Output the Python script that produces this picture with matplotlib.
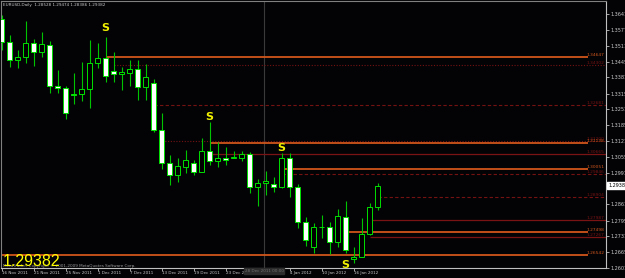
import matplotlib
matplotlib.use("Agg")
import matplotlib.pyplot as plt
import matplotlib.transforms as mtransforms
import numpy as np

# --- Data (EURUSD daily) ---
opens = [1.3621, 1.3526, 1.3453, 1.3465, 1.3522, 1.3485, 1.3514, 1.3346, 1.3338, 1.3312,
         1.3312, 1.3334, 1.3440, 1.3461, 1.3408, 1.3395, 1.3399, 1.3416, 1.3342, 1.3358,
         1.3166, 1.3032, 1.2981, 1.3016, 1.3032, 1.2995, 1.3080, 1.3040, 1.3050, 1.3053,
         1.3053, 1.3067, 1.2934, 1.2948, 1.2945, 1.2931, 1.3050, 1.2934, 1.2791, 1.2688,
         1.2767, 1.2768, 1.2706, 1.2811, 1.2639, 1.2647, 1.2739, 1.28528]
highs = [1.3637, 1.3555, 1.3494, 1.3612, 1.3539, 1.3567, 1.3530, 1.3412, 1.3346, 1.3399,
         1.3444, 1.3535, 1.3522, 1.3547, 1.3485, 1.3424, 1.3453, 1.3453, 1.3436, 1.3375,
         1.3237, 1.3064, 1.3051, 1.3084, 1.3043, 1.3133, 1.3198, 1.3118, 1.3095, 1.3081,
         1.3081, 1.3077, 1.2964, 1.2998, 1.2972, 1.3071, 1.3073, 1.2944, 1.2809, 1.2784,
         1.2818, 1.2788, 1.2843, 1.2877, 1.2686, 1.2807, 1.2866, 1.29474]
lows = [1.3494, 1.3424, 1.3420, 1.3440, 1.3428, 1.3465, 1.3318, 1.3318, 1.3211, 1.3272,
        1.3285, 1.3257, 1.3420, 1.3363, 1.3363, 1.3330, 1.3346, 1.3289, 1.3289, 1.3158,
        1.3008, 1.2941, 1.2954, 1.2991, 1.2981, 1.2995, 1.3023, 1.3016, 1.3023, 1.3050,
        1.3040, 1.2909, 1.2855, 1.2900, 1.2913, 1.2930, 1.2893, 1.2766, 1.2692, 1.2664,
        1.2723, 1.2658, 1.2688, 1.2661, 1.2623, 1.2647, 1.2735, 1.28386]
closes = [1.3526, 1.3453, 1.3465, 1.3522, 1.3485, 1.3518, 1.3346, 1.3338, 1.3237, 1.3311,
          1.3334, 1.3440, 1.3461, 1.3387, 1.3395, 1.3404, 1.3416, 1.3342, 1.3383, 1.3166,
          1.3032, 1.2981, 1.3020, 1.3043, 1.2995, 1.3081, 1.3040, 1.3050, 1.3043, 1.3054,
          1.3067, 1.2934, 1.2948, 1.2957, 1.2931, 1.3050, 1.2934, 1.2791, 1.2716, 1.2768,
          1.2768, 1.2706, 1.2814, 1.2675, 1.2647, 1.2739, 1.2850, 1.29382]

date_bars = [0, 4, 8, 12, 16, 20, 24, 28, 36, 40, 44]
date_labels = ["16 Nov 2011", "21 Nov 2011", "25 Nov 2011", "1 Dec 2011", "7 Dec 2011",
               "13 Dec 2011", "19 Dec 2011", "23 Dec 2011", "4 Jan 2012", "10 Jan 2012",
               "16 Jan 2012"]

price_ticks = [1.36410, 1.35770, 1.35110, 1.34450, 1.33810, 1.33150, 1.32510, 1.31850,
               1.31210, 1.30550, 1.29910, 1.28610, 1.27950, 1.27310, 1.26650, 1.26010]

# horizontal level objects: price, bar where it starts, kind
level_prices = [1.34647, 1.34302, 1.32681, 1.31200, 1.31138, 1.30665, 1.30051, 1.29846,
                1.28904, 1.27987, 1.27498, 1.27267, 1.26542]
level_start = [13, 14, 19, 20, 26, 26, 35, 35, 47, 46, 43, 46, -1]
level_kind = ["orange", "dotted", "dashed", "dotted", "orange", "solid", "orange", "dashed",
              "dashed", "solid", "orange", "solid", "orange"]

# "S" signal marks
signal_bars = [13, 26, 35, 43]
signal_prices = [1.3584, 1.3220, 1.3091, 1.2613]

header = "EURUSD,Daily  1.28528 1.29474 1.28386 1.29382"
last_price = 1.29382

# --- Styles ---
GREEN = "#00E000"
WICK = "#00C400"
BG = "#030306"
LEVEL_STYLE = {
    "orange": dict(color="#D0561C", lw=1.3, ls="-"),
    "solid": dict(color="#7A1414", lw=0.9, ls="-"),
    "dashed": dict(color="#741212", lw=0.8, ls=(0, (3, 2))),
    "dotted": dict(color="#741212", lw=0.8, ls=(0, (1, 1.5))),
}

fig = plt.figure(figsize=(6.25, 2.78), dpi=100, facecolor=BG)
ax = fig.add_axes([1 / 625, 10 / 278, 605 / 625, 267 / 278], facecolor=BG)

xmin = -0.7 / 8
xmax = xmin + 605 / 8
ax.set_xlim(xmin, xmax)
ax.set_ylim(1.260099, 1.369423)

# period separator
ax.axvline(32.8, color="#3A3A3A", lw=0.8, zorder=1)

# --- Levels ---
yblend = mtransforms.blended_transform_factory(ax.transAxes, ax.transData)
for p, start, kind in zip(level_prices, level_start, level_kind):
    st = LEVEL_STYLE[kind]
    end = xmin + 587 / 8 if kind == "orange" else xmax
    ax.hlines(p, max(start, xmin), end, colors=st["color"], lw=st["lw"],
              linestyles=st["ls"], zorder=1)
    ax.text(0.998, p, "%.5f" % p, transform=yblend,
            ha="right", va="bottom", fontsize=3.2, color=st["color"], zorder=4)

# --- Candles ---
o = np.array(opens)
c = np.array(closes)
x = np.arange(len(o))
bull = c >= o  # MT4 default: bull candle black, bear candle white
ax.vlines(x, lows, highs, color=WICK, lw=0.8, zorder=2)
ax.bar(x, np.maximum(np.abs(c - o), 0.00002), bottom=np.minimum(o, c), width=0.62,
       color=np.where(bull, "black", "white"), edgecolor=GREEN, linewidth=0.7, zorder=3)

for b, p in zip(signal_bars, signal_prices):
    ax.text(b, p, "S", ha="center", va="center", fontsize=8, fontweight="bold",
            color="#F0F000", zorder=5)

# --- Axes / frame ---
for side in ["left", "top"]:
    ax.spines[side].set_color("#808080")
for side in ["right", "bottom"]:
    ax.spines[side].set_color("#C0C0C0")
for s in ax.spines.values():
    s.set_linewidth(0.8)

ax.yaxis.tick_right()
ax.set_yticks(price_ticks)
ax.set_yticklabels(["%.5f" % t for t in price_ticks])
ax.tick_params(axis="y", length=2, width=0.6, color="#C0C0C0", labelsize=3.5,
               labelcolor="#C8C8C8", pad=1)
ax.set_xticks(date_bars)
ax.set_xticklabels(date_labels)
ax.tick_params(axis="x", length=2, width=0.6, color="#C0C0C0", labelsize=3,
               labelcolor="#C8C8C8", pad=0.5)
plt.setp(ax.get_xticklabels(), ha="left")

# current price box on the price scale
ax.text(1.0 + 2 / 605, last_price, "%.5f" % last_price, transform=yblend,
        ha="left", va="center", fontsize=3.5, color="black", clip_on=False, zorder=6,
        bbox=dict(facecolor="white", edgecolor="white", pad=0.8))

# date box under the separator
ax.text(32.8, -0.004, "28 Dec 2011 00:00",
        transform=mtransforms.blended_transform_factory(ax.transData, ax.transAxes),
        ha="center", va="top", fontsize=3, color="#707070", clip_on=False, zorder=6,
        bbox=dict(facecolor="#2C2C2C", edgecolor="#2C2C2C", pad=0.6))

# --- Texts ---
ax.text(0.004, 0.993, header, transform=ax.transAxes, ha="left", va="top",
        fontsize=3.0, color="#C8C8C8")
fig.text(3 / 625, 11.5 / 278, "MetaTrader, Copyright \u00a9 2001-2009 MetaQuotes Software Corp.",
         fontsize=3, color="#9A9A9A", va="baseline")
fig.text(3 / 625, 11.5 / 278, "%.5f" % last_price, fontsize=11.5, family="Liberation Sans",
         color="#FFFF00", va="baseline")

fig.savefig("out.png", dpi=100, facecolor=BG)
